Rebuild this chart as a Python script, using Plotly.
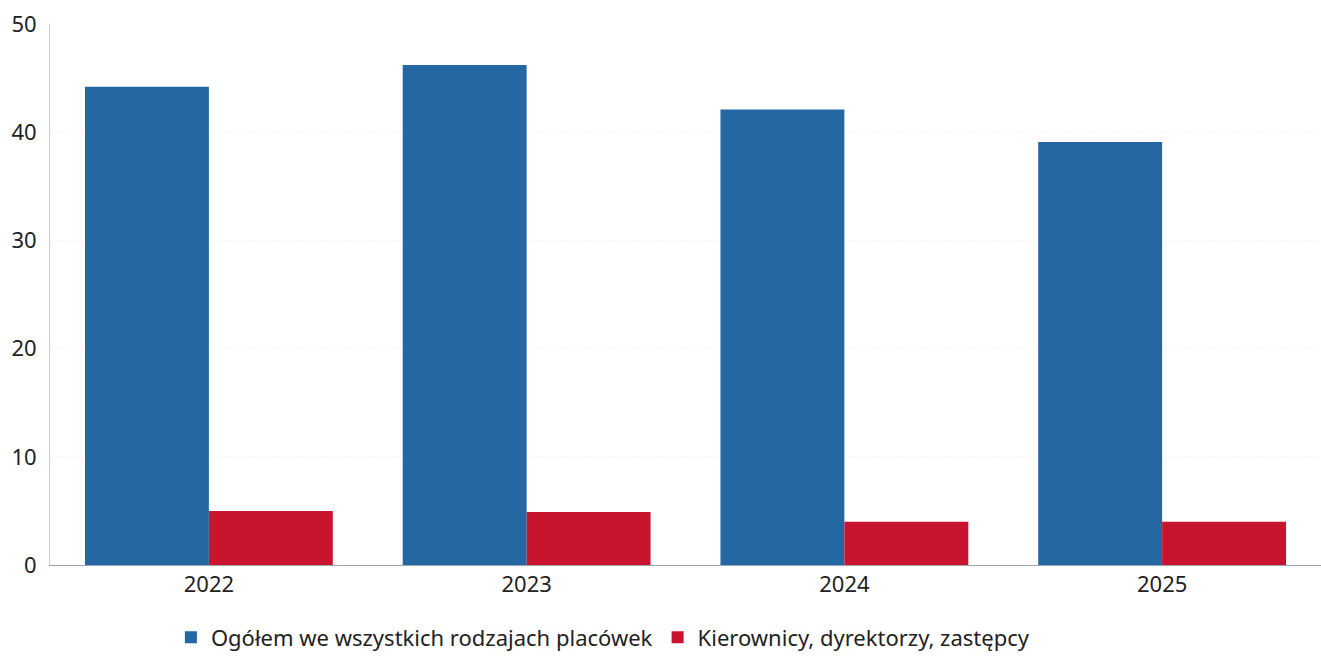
import plotly.graph_objects as go

years = ["2022", "2023", "2024", "2025"]
ogolem = [44.2, 46.2, 42.1, 39.1]
kierownicy = [5.0, 4.9, 4.0, 4.0]
y_ticks = [0, 10, 20, 30, 40, 50]

fig = go.Figure()
fig.add_trace(go.Bar(
    x=years, y=ogolem,
    name="Ogółem we wszystkich rodzajach placówek",
    marker=dict(color="#2467a2", line=dict(width=0)),
))
fig.add_trace(go.Bar(
    x=years, y=kierownicy,
    name="Kierownicy, dyrektorzy, zastępcy",
    marker=dict(color="#c8142f", line=dict(width=0)),
))

fig.update_layout(
    width=1321, height=658,
    margin=dict(l=50, r=0, t=24, b=93, autoexpand=False),
    paper_bgcolor="white", plot_bgcolor="white",
    barmode="group", bargap=0.22, bargroupgap=0,
    font=dict(family="Noto Sans, Open Sans, sans-serif", size=22, color="#222222"),
    showlegend=True,
    legend=dict(
        orientation="h", x=0.435, xanchor="center", y=-0.095, yanchor="top",
        font=dict(size=22, color="#222222"), itemwidth=30,
        traceorder="normal",
    ),
    xaxis=dict(
        showline=True, linecolor="#9aa6b0", linewidth=1,
        showgrid=False, ticks="", tickfont=dict(size=22),
    ),
    yaxis=dict(
        range=[0, 50], tickvals=y_ticks,
        showline=True, linecolor="#c8ced4", linewidth=1,
        showgrid=True, gridcolor="#f1f3f5", griddash="dot", gridwidth=1,
        zeroline=False, ticks="", ticklabelstandoff=8,
        tickfont=dict(size=22),
    ),
)

fig.write_html("out.html")
